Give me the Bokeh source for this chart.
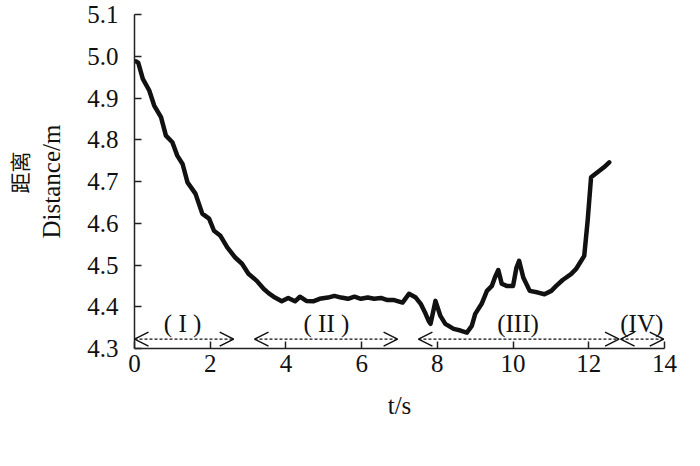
from bokeh.plotting import figure
from bokeh.models import (Range1d, FixedTicker, NumeralTickFormatter, Title,
                          Arrow, OpenHead, ColumnDataSource, LabelSet)
from bokeh.embed import file_html
from bokeh.resources import INLINE
from bokeh.core.properties import value

# ---- data ----
time_s = [0.04, 0.10, 0.22, 0.39, 0.52, 0.70, 0.83, 1.00, 1.13, 1.27, 1.40, 1.61,
          1.79, 1.97, 2.10, 2.27, 2.45, 2.66, 2.84, 3.01, 3.23, 3.41, 3.55, 3.71,
          3.89, 4.06, 4.24, 4.37, 4.54, 4.72, 4.89, 5.11, 5.28, 5.46, 5.64, 5.81,
          5.98, 6.16, 6.33, 6.51, 6.68, 6.86, 7.08, 7.25, 7.43, 7.56, 7.69, 7.77,
          7.82, 7.95, 8.08, 8.21, 8.43, 8.61, 8.78, 8.91, 9.00, 9.17, 9.31, 9.44,
          9.52, 9.61, 9.70, 9.83, 10.00, 10.09, 10.16, 10.27, 10.44, 10.66, 10.83,
          11.01, 11.14, 11.31, 11.53, 11.66, 11.80, 11.88, 11.97, 12.06, 12.23,
          12.40, 12.54]
distance_m = [4.988, 4.984, 4.946, 4.918, 4.882, 4.854, 4.810, 4.794, 4.762, 4.742,
              4.698, 4.671, 4.623, 4.611, 4.582, 4.570, 4.542, 4.518, 4.503, 4.479,
              4.462, 4.443, 4.432, 4.422, 4.413, 4.421, 4.413, 4.424, 4.414, 4.413,
              4.419, 4.422, 4.426, 4.422, 4.419, 4.424, 4.419, 4.422, 4.419, 4.421,
              4.416, 4.416, 4.410, 4.431, 4.422, 4.407, 4.383, 4.366, 4.359, 4.414,
              4.378, 4.359, 4.347, 4.343, 4.338, 4.354, 4.383, 4.407, 4.438, 4.450,
              4.470, 4.488, 4.455, 4.450, 4.450, 4.494, 4.510, 4.470, 4.438, 4.434,
              4.430, 4.438, 4.450, 4.464, 4.478, 4.490, 4.510, 4.522, 4.606, 4.710,
              4.722, 4.734, 4.746]

x_ticks = [0, 2, 4, 6, 8, 10, 12, 14]
y_ticks = [4.3, 4.4, 4.5, 4.6, 4.7, 4.8, 4.9, 5.0, 5.1]

phase_names = ["( I )", "( II )", "(III)", "(IV)"]
phase_label_x = [1.27, 5.07, 10.13, 13.40]
phase_label_y = [4.360, 4.360, 4.360, 4.360]
phase_start = [0.0, 3.17, 7.50, 12.84]
phase_end = [2.62, 6.95, 12.80, 13.98]
phase_arrow_y = 4.3226

x_title = "t/s"
y_title = "Distance/m"
y_title_cn = "距离"

SERIF = "Liberation Serif"

p = figure(width=692, height=458, output_backend="svg", toolbar_location=None,
           x_range=Range1d(0, 14), y_range=Range1d(4.3, 5.1),
           min_border_left=132, min_border_right=28, min_border_top=14,
           min_border_bottom=110)
p.outline_line_color = None
p.grid.visible = False
p.background_fill_color = "white"
p.border_fill_color = "white"

for ax in (p.xaxis[0], p.yaxis[0]):
    ax.axis_line_color = "#222222"
    ax.axis_line_width = 1.5
    ax.major_tick_line_color = "#222222"
    ax.major_tick_line_width = 1.5
    ax.major_tick_in = 7
    ax.major_tick_out = 0
    ax.minor_tick_line_color = None
    ax.major_label_text_font = SERIF
    ax.major_label_text_font_size = "25px"
    ax.major_label_text_color = "#111111"
    ax.axis_label_text_font = SERIF
    ax.axis_label_text_font_size = "25px"
    ax.axis_label_text_font_style = "normal"
    ax.axis_label_text_color = "#111111"

p.xaxis[0].ticker = FixedTicker(ticks=x_ticks)
p.yaxis[0].ticker = FixedTicker(ticks=y_ticks)
p.yaxis[0].formatter = NumeralTickFormatter(format="0.0")
p.xaxis[0].major_label_standoff = 6
p.yaxis[0].major_label_standoff = 16
p.xaxis[0].axis_label = x_title
p.xaxis[0].axis_label_standoff = 17
p.yaxis[0].axis_label = y_title
p.yaxis[0].axis_label_standoff = 19

p.add_layout(Title(text=y_title_cn, align="left", offset=155,
                   text_font="Noto Sans CJK SC", text_font_size="21px",
                   text_font_style="normal", text_color="#111111",
                   standoff=3), "left")

# curve
p.line(time_s, distance_m, line_color="#111111", line_width=4.5,
       line_join="round", line_cap="round")

# phase arrows
for xs, xe in zip(phase_start, phase_end):
    p.add_layout(Arrow(
        start=OpenHead(size=14, line_width=1.5, line_color="#111111"),
        end=OpenHead(size=14, line_width=1.5, line_color="#111111"),
        x_start=xs, y_start=phase_arrow_y, x_end=xe, y_end=phase_arrow_y,
        line_dash="3 2", line_width=1.3, line_color="#111111"))

src = ColumnDataSource(dict(x=phase_label_x, y=phase_label_y, text=phase_names))
p.add_layout(LabelSet(x="x", y="y", text="text", source=src,
                      text_font=value(SERIF), text_font_size="25px",
                      text_align="center", text_baseline="middle",
                      text_color="#111111"))

open("out.html", "w").write(file_html(p, INLINE))
